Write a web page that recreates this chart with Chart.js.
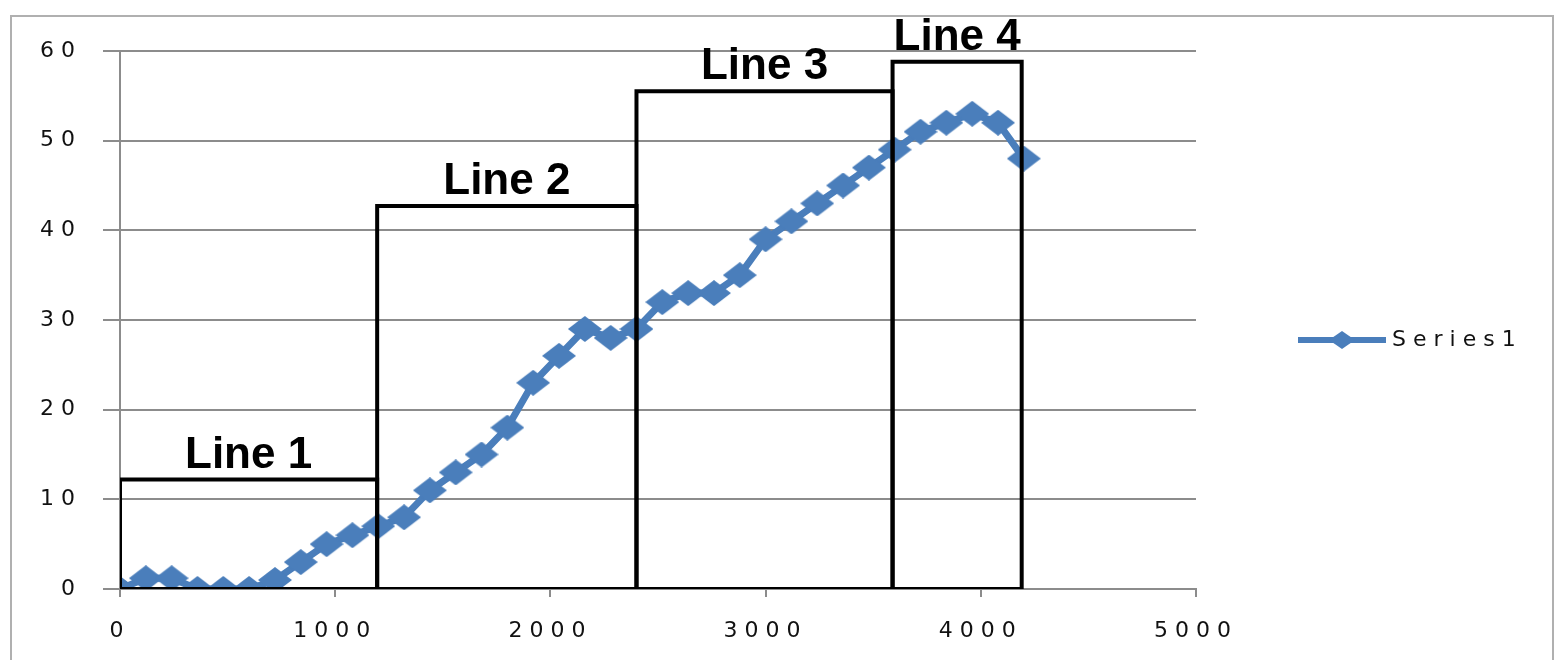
<!DOCTYPE html>
<html>
<head>
<meta charset="utf-8">
<script src="https://cdn.jsdelivr.net/npm/chart.js@4.4.1/dist/chart.umd.min.js"></script>
<style>
  html, body { margin: 0; padding: 0; background: #ffffff; }
  #frame { position: absolute; left: 10px; top: 15px; width: 1544px; height: 700px; border: 2px solid #b0b0b0; box-sizing: border-box; }
  #c { position: absolute; left: 0; top: 0; }
</style>
</head>
<body>
<div id="frame"></div>
<canvas id="c" width="1564" height="660"></canvas>
<script>
// ---- data ----
const xValues = [0, 120, 240, 360, 480, 600, 720, 840, 960, 1080, 1200, 1320, 1440, 1560, 1680, 1800, 1920, 2040, 2160, 2280, 2400, 2520, 2640, 2760, 2880, 3000, 3120, 3240, 3360, 3480, 3600, 3720, 3840, 3960, 4080, 4200];
const series1 = [0, 1.2, 1.2, 0, 0, 0, 1, 3, 5, 6, 7, 8, 11, 13, 15, 18, 23, 26, 29, 28, 29, 32, 33, 33, 35, 39, 41, 43, 45, 47, 49, 51, 52, 53, 52, 48];
const boxLabels = ['Line 1', 'Line 2', 'Line 3', 'Line 4'];
const boxStart = [0, 1195, 2400, 3590];
const boxEnd = [1195, 2400, 3590, 4190];
const boxTop = [12.2, 42.7, 55.5, 58.8];
const yTicks = [0, 10, 20, 30, 40, 50, 60];
const xTicks = [0, 1000, 2000, 3000, 4000, 5000];
const seriesName = 'Series1';

const BLUE = '#4a7ebb';
const TICK_FONT = '"DejaVu Sans", sans-serif';

function diamond(w, h, color) {
  const cv = document.createElement('canvas');
  cv.width = w; cv.height = h;
  const g = cv.getContext('2d');
  g.fillStyle = color;
  g.beginPath();
  g.moveTo(w / 2, 0); g.lineTo(w, h / 2); g.lineTo(w / 2, h); g.lineTo(0, h / 2);
  g.closePath(); g.fill();
  return cv;
}
const marker = diamond(34, 26, BLUE);
const legendMarker = diamond(26, 18, BLUE);

const seriesData = xValues.map((x, i) => ({ x: x, y: series1[i] }));
const boxDatasets = boxLabels.map((name, i) => ({
  label: name,
  data: [
    { x: boxStart[i], y: 0 }, { x: boxStart[i], y: boxTop[i] },
    { x: boxEnd[i], y: boxTop[i] }, { x: boxEnd[i], y: 0 }, { x: boxStart[i], y: 0 }
  ],
  showLine: true,
  borderColor: '#000000',
  borderWidth: 4,
  pointRadius: 0,
  fill: false,
  tension: 0,
  order: 1
}));

const spacingPlugin = {
  id: 'spacing',
  beforeLayout(chart) { chart.ctx.letterSpacing = '7px'; },
  beforeDraw(chart) { chart.ctx.letterSpacing = '7px'; }
};

const labelPlugin = {
  id: 'boxLabels',
  afterDatasetsDraw(chart) {
    const ctx = chart.ctx;
    const xs = chart.scales.x, ys = chart.scales.y;
    ctx.save();
    ctx.letterSpacing = '0px';
    ctx.font = 'bold 44px "Liberation Sans", Arial, sans-serif';
    ctx.fillStyle = '#000000';
    ctx.textAlign = 'center';
    ctx.textBaseline = 'alphabetic';
    boxLabels.forEach((name, i) => {
      const cx = (xs.getPixelForValue(boxStart[i]) + xs.getPixelForValue(boxEnd[i])) / 2;
      const y = ys.getPixelForValue(boxTop[i]) - 12;
      ctx.fillText(name, cx, y);
    });
    ctx.restore();
  },
  afterDraw(chart) {
    // legend for Series1
    const ctx = chart.ctx;
    const ca = chart.chartArea;
    const lx = ca.right + 102, ly = (ca.top + ca.bottom) / 2 + 20;
    ctx.save();
    ctx.strokeStyle = BLUE;
    ctx.lineWidth = 6;
    ctx.beginPath();
    ctx.moveTo(lx, ly); ctx.lineTo(lx + 88, ly);
    ctx.stroke();
    ctx.drawImage(legendMarker, lx + 44 - 13, ly - 9);
    ctx.letterSpacing = '7px';
    ctx.font = '22px "DejaVu Sans", sans-serif';
    ctx.fillStyle = '#111111';
    ctx.textAlign = 'left';
    ctx.textBaseline = 'middle';
    ctx.fillText(seriesName, lx + 94, ly);
    ctx.restore();
  }
};

new Chart(document.getElementById('c'), {
  type: 'scatter',
  data: {
    datasets: [
      {
        label: seriesName,
        data: seriesData,
        showLine: true,
        borderColor: BLUE,
        backgroundColor: BLUE,
        borderWidth: 7,
        pointStyle: marker,
        pointRadius: 13,
        tension: 0,
        order: 2
      },
      ...boxDatasets
    ]
  },
  options: {
    responsive: false,
    animation: false,
    devicePixelRatio: 1,
    layout: { padding: { left: 20, right: 368, top: 51, bottom: 21 } },
    plugins: { legend: { display: false }, tooltip: { enabled: false } },
    scales: {
      x: {
        type: 'linear',
        min: 0, max: 5000,
        afterBuildTicks(s) { s.ticks = xTicks.map(v => ({ value: v })); },
        afterFit(s) { s.height = 50; },
        grid: { drawOnChartArea: false, color: '#8c8c8c', lineWidth: 2, tickLength: 8 },
        border: { display: true, color: '#8c8c8c', width: 2 },
        ticks: {
          color: '#111111', padding: 21, maxRotation: 0,
          font: { size: 22, family: TICK_FONT },
          callback: (v) => String(v)
        }
      },
      y: {
        type: 'linear',
        min: 0, max: 60,
        afterBuildTicks(s) { s.ticks = yTicks.map(v => ({ value: v })); },
        afterFit(s) { s.width = 100; },
        grid: { color: '#8c8c8c', lineWidth: 2, tickLength: 17 },
        border: { display: true, color: '#8c8c8c', width: 2 },
        ticks: {
          color: '#111111', padding: 21,
          font: { size: 22, family: TICK_FONT },
          callback: (v) => String(v)
        }
      }
    }
  },
  plugins: [spacingPlugin, labelPlugin]
});
</script>
</body>
</html>
